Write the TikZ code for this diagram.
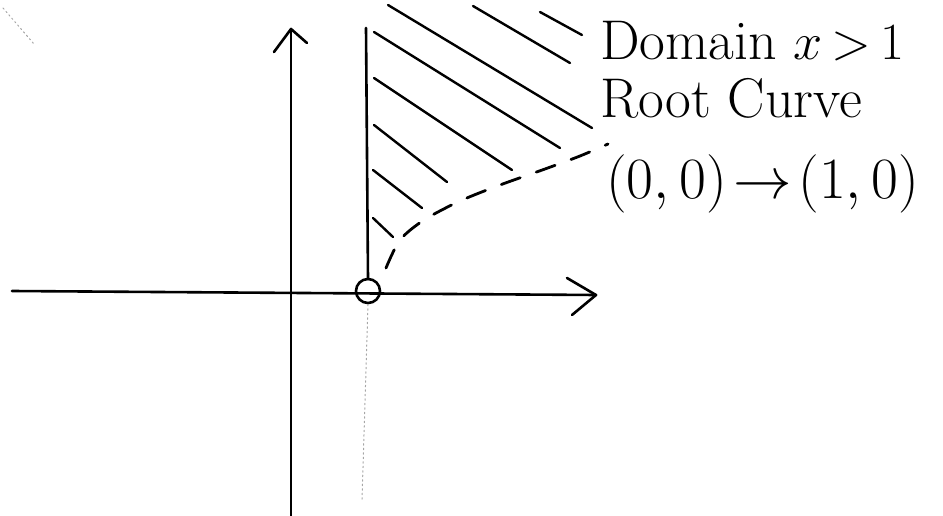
\documentclass[tikz,border=0pt]{standalone}
\usepackage{graphicx}
\usetikzlibrary{arrows.meta}
\begin{document}
\begin{tikzpicture}[x=1pt,y=-1pt, line cap=round, line join=round,
  ink/.style={line width=2.6pt, black},
  hatchline/.style={line width=2.4pt, black},
  curvedash/.style={line width=2.8pt, black, dash pattern=on 20pt off 17pt},
  faint/.style={line width=1pt, black!35, dash pattern=on 1.5pt off 3pt},
  label/.style={inner sep=0pt, font=\fontsize{56}{66}\selectfont}]
\useasboundingbox (0,0) rectangle (943,516);
% axes
\coordinate (ybot) at (291,516);
\coordinate (ytop) at (291,29);
\coordinate (xl) at (12,291);
\coordinate (xr) at (596,295);
\draw[ink] (ybot) -- (ytop);
\draw[ink] (274,52) -- (ytop) -- (307,43);
\draw[ink] (xl) -- (xr);
\draw[ink] (567,278) -- (xr) -- (572,315);
% boundary line x = 1
\coordinate (btop) at (366,28);
\coordinate (bbot) at (368,279);
\draw[ink] (btop) -- (bbot);
\node[draw, circle, line width=2.6pt, minimum size=24pt, inner sep=0pt] (hole) at (368,291) {};
% faint dotted line below the hole
\draw[faint] (hole.south) -- (362,500);
\draw[faint] (3,8) -- (34,44);
% hatching
\draw[hatchline] (388,5) -- (592,128);
\draw[hatchline] (374,32) -- (560,148);
\draw[hatchline] (374,78) -- (512,170);
\draw[hatchline] (374,125) -- (447,182);
\draw[hatchline] (373,170) -- (422,208);
\draw[hatchline] (373,218) -- (393,237);
\draw[hatchline] (473,6) -- (570,63);
\draw[hatchline] (540,12) -- (582,35);
% dashed root curve
\draw[curvedash] plot[smooth] coordinates {(386,268) (400,240) (424,220) (460,201) (500,185) (545,169) (580,156) (608,144)};
% labels
\node[label, anchor=base west] (dom) at (600,60) {Domain \scalebox{2.1}{\Huge$x\,{>}\,1$}};
\node[label, anchor=base west] (root) at (600,118) {Root Curve};
\node[inner sep=0pt, anchor=base west] (pts) at (606,198) {\scalebox{2.35}{\Huge$(0,0)\!\rightarrow\!(1,0)$}};
\end{tikzpicture}
\end{document}
